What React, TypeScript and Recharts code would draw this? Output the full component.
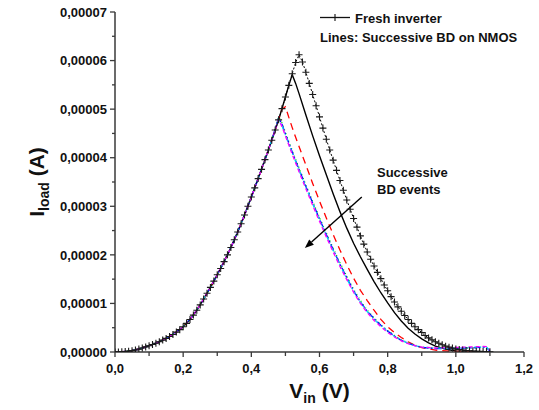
import { LineChart, Line, XAxis, YAxis, ReferenceLine } from "recharts";

// I values are in µA (1e-6 A); axis ticks format them back to amps
const X_TICKS = [0, 0.1, 0.2, 0.3, 0.4, 0.5, 0.6, 0.7, 0.8, 0.9, 1.0, 1.1, 1.2];
const Y_TICKS = [0, 5, 10, 15, 20, 25, 30, 35, 40, 45, 50, 55, 60, 65, 70];

const FRESH_V = [
  0, 0.01, 0.02, 0.03, 0.04, 0.05, 0.06, 0.07, 0.08, 0.09,
  0.1, 0.11, 0.12, 0.13, 0.14, 0.15, 0.16, 0.17, 0.18, 0.19,
  0.2, 0.21, 0.22, 0.23, 0.24, 0.25, 0.26, 0.27, 0.28, 0.29,
  0.3, 0.31, 0.32, 0.33, 0.34, 0.35, 0.36, 0.37, 0.38, 0.39,
  0.4, 0.41, 0.42, 0.43, 0.44, 0.45, 0.46, 0.47, 0.48, 0.49,
  0.5, 0.51, 0.52, 0.53, 0.54, 0.55, 0.56, 0.57, 0.58, 0.59,
  0.6, 0.61, 0.62, 0.63, 0.64, 0.65, 0.66, 0.67, 0.68, 0.69,
  0.7, 0.71, 0.72, 0.73, 0.74, 0.75, 0.76, 0.77, 0.78, 0.79,
  0.8, 0.81, 0.82, 0.83, 0.84, 0.85, 0.86, 0.87, 0.88, 0.89,
  0.9, 0.91, 0.92, 0.93, 0.94, 0.95, 0.96, 0.97, 0.98, 0.99,
  1.0, 1.01, 1.02, 1.03, 1.04, 1.05, 1.06, 1.07, 1.08, 1.09, 1.1,
];
const FRESH_I = [
  0, 0.02, 0.05, 0.1, 0.18, 0.28, 0.42, 0.6, 0.82, 1.05,
  1.3, 1.55, 1.8, 2.1, 2.45, 2.8, 3.2, 3.6, 4.1, 4.6,
  5.2, 5.9, 6.7, 7.6, 8.6, 9.7, 10.9, 12.1, 13.3, 14.6,
  15.9, 17.2, 18.6, 20.0, 21.5, 23.1, 24.7, 26.4, 28.2, 30.0,
  31.9, 33.8, 35.7, 37.6, 39.6, 41.6, 43.6, 45.7, 47.8, 50.1,
  52.5, 54.9, 57.3, 59.6, 61.2, 59.7, 57.6, 55.3, 53.0, 50.7,
  48.4, 46.1, 43.8, 41.6, 39.5, 37.4, 35.3, 33.3, 31.3, 29.4,
  27.5, 25.7, 23.9, 22.2, 20.6, 19.1, 17.7, 16.4, 15.1, 13.8,
  12.6, 11.4, 10.3, 9.3, 8.4, 7.5, 6.7, 5.9, 5.2, 4.6,
  4.0, 3.4, 2.9, 2.5, 2.1, 1.8, 1.5, 1.2, 1.0, 0.8,
  0.6, 0.5, 0.4, 0.3, 0.25, 0.2, 0.15, 0.12, 0.1, 0.08, 0.05,
];

// rising edge shared by all BD curves
const RISE_V = [0, 0.02, 0.04, 0.06, 0.08, 0.1, 0.12, 0.14, 0.16, 0.18, 0.2, 0.22, 0.24, 0.26, 0.28, 0.3, 0.32, 0.34, 0.36, 0.38, 0.4, 0.42, 0.44, 0.46];
const RISE_I = [0, 0.05, 0.18, 0.42, 0.82, 1.3, 1.8, 2.45, 3.2, 4.1, 5.2, 6.7, 8.6, 10.9, 13.3, 15.9, 18.6, 21.5, 24.7, 28.2, 31.9, 35.7, 39.6, 43.6];

const BD1_V = [0.48, 0.5, 0.51, 0.52, 0.53, 0.54, 0.56, 0.58, 0.6, 0.62, 0.64, 0.66, 0.68, 0.7, 0.72, 0.74, 0.76, 0.78, 0.8, 0.82, 0.84, 0.86, 0.88, 0.9, 0.92, 0.94, 0.96, 0.98, 1.0, 1.04, 1.1];
const BD1_I = [47.8, 52.5, 54.9, 57.1, 55.3, 53.2, 48.8, 44.5, 40.4, 36.5, 32.6, 28.9, 25.5, 22.4, 19.6, 17.0, 14.5, 12.2, 10.1, 8.1, 6.4, 4.9, 3.7, 2.7, 1.9, 1.2, 0.8, 0.45, 0.2, 0.08, 0];

const BD2_V = [0.48, 0.49, 0.5, 0.51, 0.52, 0.53, 0.54, 0.56, 0.58, 0.6, 0.62, 0.64, 0.66, 0.68, 0.7, 0.72, 0.74, 0.76, 0.78, 0.8, 0.82, 0.84, 0.86, 0.88, 0.9, 0.94, 0.98, 1.02, 1.06, 1.1];
const BD2_I = [47.8, 50.0, 50.5, 48.3, 46.2, 44.2, 42.3, 38.5, 34.7, 31.1, 27.6, 24.2, 21.0, 18.0, 15.2, 12.7, 10.6, 8.6, 6.7, 5.2, 4.0, 3.0, 2.1, 1.4, 0.9, 0.4, 0.15, 0.1, 0.05, 0];

const GRP_V = [0.48, 0.49, 0.5, 0.51, 0.52, 0.53, 0.54, 0.56, 0.58, 0.6, 0.62, 0.64, 0.66, 0.68, 0.7, 0.72, 0.74, 0.76, 0.78, 0.8, 0.82, 0.84, 0.86, 0.88, 0.9, 0.94, 0.98, 1.02, 1.06, 1.08, 1.09, 1.1];
const BD3_I = [48.4, 47.2, 45.2, 43.3, 41.5, 39.7, 37.9, 34.4, 31.0, 27.7, 24.5, 21.4, 18.4, 15.6, 12.9, 10.6, 8.6, 7.0, 5.6, 4.4, 3.4, 2.5, 1.9, 1.4, 1.0, 0.75, 0.7, 0.8, 0.85, 0.95, 0.9, 0.1];
const BD4_I = [48.2, 46.9, 44.9, 43.0, 41.2, 39.4, 37.6, 34.1, 30.7, 27.4, 24.2, 21.1, 18.1, 15.3, 12.6, 10.3, 8.4, 6.9, 5.5, 4.3, 3.3, 2.4, 1.8, 1.3, 0.95, 0.7, 0.7, 0.8, 0.9, 1.0, 0.9, 0.2];
const BD5_I = [48.0, 46.6, 44.7, 42.8, 41.0, 39.2, 37.4, 33.9, 30.5, 27.2, 24.0, 20.9, 17.9, 15.1, 12.5, 10.2, 8.3, 6.7, 5.4, 4.2, 3.2, 2.4, 1.8, 1.3, 1.0, 0.8, 0.8, 0.9, 1.0, 1.05, 1.0, 0.3];
const BD6_I = [47.9, 46.4, 44.5, 42.6, 40.7, 38.9, 37.1, 33.6, 30.2, 26.9, 23.7, 20.6, 17.6, 14.9, 12.3, 10.0, 8.1, 6.5, 5.2, 4.0, 3.1, 2.3, 1.7, 1.3, 1.0, 0.85, 0.9, 1.0, 1.1, 1.15, 1.1, 0.4];

const toPts = (vs: number[], is: number[]) => vs.map((v, k) => ({ v, i: is[k] }));
const withRise = (vs: number[], is: number[]) => [...toPts(RISE_V, RISE_I), ...toPts(vs, is)];

const fresh = toPts(FRESH_V, FRESH_I);
const bdSeries = [
  { name: "BD1", data: withRise(BD1_V, BD1_I), color: "#000000", dash: undefined, width: 1.4 },
  { name: "BD2", data: withRise(BD2_V, BD2_I), color: "#ff0000", dash: "7 5", width: 1.3 },
  { name: "BD3", data: withRise(GRP_V, BD3_I), color: "#00e000", dash: "1 3", width: 1.3 },
  { name: "BD4", data: withRise(GRP_V, BD4_I), color: "#0000ff", dash: "7 2 2 2", width: 1.3 },
  { name: "BD5", data: withRise(GRP_V, BD5_I), color: "#00d8f0", dash: "4 2 1 2 1 2", width: 1.3 },
  { name: "BD6", data: withRise(GRP_V, BD6_I), color: "#ff00ff", dash: "4 3", width: 1.3 },
];

const FONT = "'Liberation Sans', Arial, sans-serif";
const AXIS = "#3a3a3a";

const XTick = (props: any) => {
  const { x, y, payload } = props;
  const v = payload.value as number;
  const major = Math.round(v * 10) % 2 === 0;
  return (
    <g>
      <line x1={x} y1={y} x2={x} y2={y + (major ? 5 : 4)} stroke={AXIS} strokeWidth={1.3} />
      {major && (
        <text x={x} y={y + 21} textAnchor="middle" fontFamily={FONT} fontWeight="bold" fontSize={13} fill="#111">
          {v.toFixed(1).replace(".", ",")}
        </text>
      )}
    </g>
  );
};

const YTick = (props: any) => {
  const { x, y, payload } = props;
  const v = payload.value as number;
  const major = v % 10 === 0;
  return (
    <g>
      <line x1={x} y1={y} x2={x - (major ? 5 : 3)} y2={y} stroke={AXIS} strokeWidth={1.3} />
      {major && (
        <text x={x - 8} y={y} dy="0.36em" textAnchor="end" fontFamily={FONT} fontWeight="bold" fontSize={13} fill="#111">
          {(v * 1e-6).toFixed(5).replace(".", ",")}
        </text>
      )}
    </g>
  );
};

const Cross = (props: any) => {
  const { cx, cy, index } = props;
  if (cx == null || cy == null) return <g key={`c-${index}`} />;
  return (
    <path
      key={`c-${index}`}
      d={`M${cx - 3.5},${cy}h7M${cx},${cy - 3.5}v7`}
      stroke="#1a1a1a"
      strokeWidth={1.1}
      fill="none"
    />
  );
};

const Arrow = (props: any) => {
  const { x1, y1, x2, y2 } = props;
  const ang = Math.atan2(y2 - y1, x2 - x1);
  const len = 9;
  const half = 3.5;
  const bx = x2 - len * Math.cos(ang);
  const by = y2 - len * Math.sin(ang);
  const px = -Math.sin(ang) * half;
  const py = Math.cos(ang) * half;
  return (
    <g>
      <line x1={x1} y1={y1} x2={bx} y2={by} stroke="#000" strokeWidth={1.4} />
      <polygon points={`${x2},${y2} ${bx + px},${by + py} ${bx - px},${by - py}`} fill="#000" />
    </g>
  );
};

export default function App() {
  return (
    <div style={{ position: "absolute", left: 0, top: 0, width: 539, height: 410, background: "#fff" }}>
      <LineChart width={539} height={410} margin={{ top: 12, right: 15, bottom: 0, left: 0 }}>
        <XAxis
          type="number"
          dataKey="v"
          domain={[0, 1.2]}
          ticks={X_TICKS}
          interval={0}
          height={58}
          tickSize={0}
          tickMargin={0}
          tickLine={false}
          tick={<XTick />}
          axisLine={{ stroke: AXIS, strokeWidth: 1.5 }}
          allowDataOverflow
        />
        <YAxis
          type="number"
          dataKey="i"
          domain={[0, 70]}
          ticks={Y_TICKS}
          interval={0}
          width={115}
          tickSize={0}
          tickMargin={0}
          tickLine={false}
          tick={<YTick />}
          axisLine={{ stroke: AXIS, strokeWidth: 1.5 }}
          allowDataOverflow
        />
        {bdSeries.map((s) => (
          <Line
            key={s.name}
            data={s.data}
            dataKey="i"
            type="linear"
            stroke={s.color}
            strokeWidth={s.width}
            strokeDasharray={s.dash}
            dot={false}
            activeDot={false}
            isAnimationActive={false}
          />
        ))}
        <Line
          data={fresh}
          dataKey="i"
          type="linear"
          stroke="#000"
          strokeWidth={1}
          strokeDasharray="2 2"
          dot={<Cross />}
          activeDot={false}
          isAnimationActive={false}
        />
        <ReferenceLine
          segment={[{ x: 0.724, y: 31.9 }, { x: 0.557, y: 21.4 }]}
          stroke="#000"
          shape={<Arrow />}
        />
      </LineChart>
      <svg width={539} height={410} style={{ position: "absolute", left: 0, top: 0, pointerEvents: "none" }}>
        <g fontFamily={FONT} fontWeight="bold" fill="#111">
          <line x1={320} y1={17.5} x2={350} y2={17.5} stroke="#111" strokeWidth={1.3} />
          <path d="M331.5,17.5h7M335,14v7" stroke="#111" strokeWidth={1.1} />
          <text x={355} y={22.5} fontSize={13}>Fresh inverter</text>
          <text x={320} y={41.5} fontSize={13}>Lines: Successive BD on NMOS</text>
          <text x={377} y={176.5} fontSize={13}>Successive</text>
          <text x={377} y={194} fontSize={13}>BD events</text>
          <text x={319.5} y={398} textAnchor="middle" fontSize={21}>
            V<tspan dy={5} fontSize={14}>in</tspan>
            <tspan dy={-5}> (V)</tspan>
          </text>
          <g transform="translate(44,182) rotate(-90)">
            <text x={0} y={0} textAnchor="middle" fontSize={21}>
              I<tspan dy={5} fontSize={14}>load</tspan>
              <tspan dy={-5}> (A)</tspan>
            </text>
          </g>
        </g>
      </svg>
    </div>
  );
}
